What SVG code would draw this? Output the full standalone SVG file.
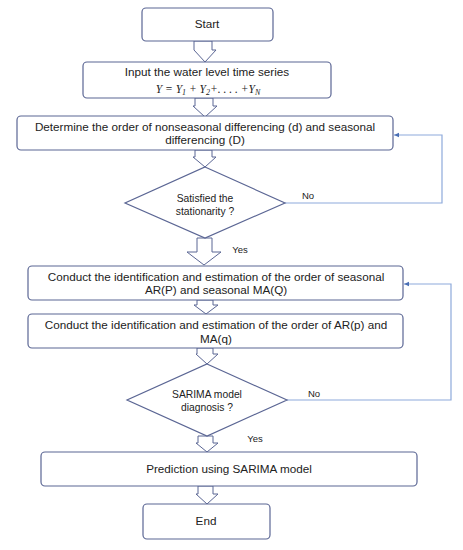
<svg xmlns="http://www.w3.org/2000/svg" width="463" height="550" viewBox="0 0 463 550">
<style>
.box{fill:#fff;stroke:#5b6694;stroke-width:1.2}
.ba{fill:#fff;stroke:#5b6694;stroke-width:1}
.t{font-family:"Liberation Sans",Arial,sans-serif;font-size:11.7px;fill:#222;text-anchor:middle}
.s{font-family:"Liberation Sans",Arial,sans-serif;font-size:10.3px;fill:#222;text-anchor:middle}
.l{font-family:"Liberation Sans",Arial,sans-serif;font-size:9.5px;fill:#222;text-anchor:middle}
.m{font-family:"Liberation Serif","Times New Roman",serif;font-style:italic;font-size:11.5px;fill:#222;text-anchor:middle}
.fb{fill:none;stroke:#8eaadb;stroke-width:1.2}
</style>
<defs>
<marker id="ah" markerWidth="6" markerHeight="6" refX="5" refY="3" orient="auto" markerUnits="userSpaceOnUse">
<path d="M0,0.8 L5,3 L0,5.2 Z" fill="#4a6fb5"/>
</marker>
</defs>
<rect width="463" height="550" fill="#fff"/>
<g id="connectors">
<path class="ba" d="M194,41 L212,41 L212,50 L216,50 L205,62 L194,50 L194,50 Z"/>
<path class="ba" d="M195,98 L213,98 L213,106 L217,106 L205,117 L193,106 L195,106 Z"/>
<path class="ba" d="M195,150 L212,150 L212,157 L216,157 L205,167 L193,157 L195,157 Z"/>
<path class="ba" d="M197,238 L212,238 L212,252 L221,252 L204,265 L187,252 L197,252 Z"/>
<path class="ba" d="M197,300 L213,300 L213,305 L218,305 L206,314 L194,305 L197,305 Z"/>
<path class="ba" d="M197,348 L213,348 L213,354 L218,354 L207,364 L196,354 L197,354 Z"/>
<path class="ba" d="M198,436 L213,436 L213,443 L218,443 L207,452 L196,443 L198,443 Z"/>
<path class="ba" d="M198,486 L213,486 L213,494 L218,494 L207,504 L196,494 L198,494 Z"/>
<polyline class="fb" points="285,203 442,203 442,135 394,135" marker-end="url(#ah)"/>
<polyline class="fb" points="287,400 451,400 451,284 404,284" marker-end="url(#ah)"/>
<text class="l" x="308" y="199">No</text>
<text class="l" x="240" y="253">Yes</text>
<text class="l" x="314" y="397">No</text>
<text class="l" x="255" y="442">Yes</text>
</g>
<g id="start">
<rect class="box" x="142" y="8" width="131" height="33" rx="4"/>
<text class="t" x="207" y="28">Start</text>
</g>
<g id="input">
<rect class="box" x="83" y="62" width="248" height="36" rx="4"/>
<text class="t" x="207" y="76">Input the water level time series</text>
<text class="m" x="208" y="93">Y = Y<tspan font-size="8" dy="1.5">1</tspan><tspan dy="-1.5"> + Y</tspan><tspan font-size="8" dy="1.5">2</tspan><tspan dy="-1.5">+. . . . +Y</tspan><tspan font-size="8" dy="1.5">N</tspan></text>
</g>
<g id="determine">
<rect class="box" x="17" y="116" width="376" height="34" rx="4"/>
<text class="t" x="205" y="131">Determine the order of nonseasonal differencing (d) and seasonal</text>
<text class="t" x="205" y="144">differencing (D)</text>
</g>
<g id="stationarity">
<polygon class="box" points="205,167 285,203 205,238 125,203"/>
<text class="s" x="205" y="202">Satisfied the</text>
<text class="s" x="205" y="215">stationarity ?</text>
</g>
<g id="seasonal">
<rect class="box" x="28" y="266" width="375" height="34" rx="4"/>
<text class="t" x="216" y="281">Conduct the identification and estimation of the order of seasonal</text>
<text class="t" x="216" y="294">AR(P) and seasonal MA(Q)</text>
</g>
<g id="arma">
<rect class="box" x="28" y="314" width="375" height="34" rx="4"/>
<text class="t" x="216" y="329">Conduct the identification and estimation of the order of AR(p) and</text>
<text class="t" x="216" y="343">MA(q)</text>
</g>
<g id="diagnosis">
<polygon class="box" points="207,364 287,400 207,436 127,400"/>
<text class="s" x="207" y="398">SARIMA model</text>
<text class="s" x="207" y="411">diagnosis ?</text>
</g>
<g id="prediction">
<rect class="box" x="41" y="452" width="376" height="34" rx="4"/>
<text class="t" x="229" y="473">Prediction using SARIMA model</text>
</g>
<g id="end">
<rect class="box" x="143" y="504" width="127" height="35" rx="4"/>
<text class="t" x="206" y="525">End</text>
</g>
</svg>
